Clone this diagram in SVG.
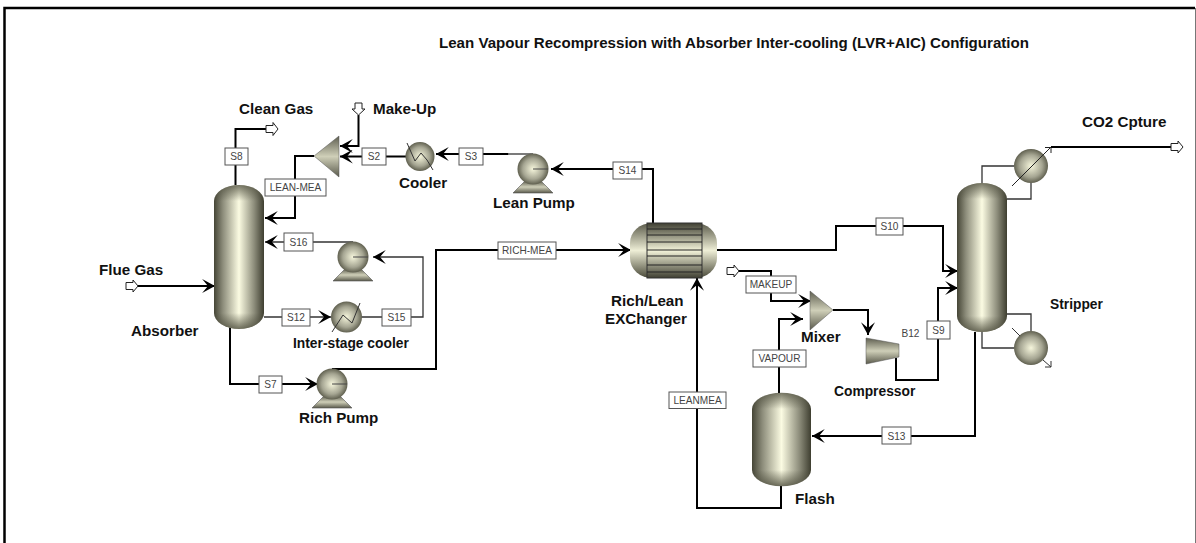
<svg xmlns="http://www.w3.org/2000/svg" width="1196" height="543" viewBox="0 0 1196 543">
<style>
text{font-family:"Liberation Sans",Arial,sans-serif;fill:#111}
.t{font-weight:bold;font-size:15.2px}
.s{font-weight:bold;font-size:13.8px}
.l{font-size:10.100px;text-anchor:middle;fill:#444}
.b{fill:#fff;stroke:#555;stroke-width:1}
.k{fill:none;stroke:#000;stroke-width:2}
.g{fill:none;stroke:#333;stroke-width:1.3}
.w{fill:#fff;stroke:#222;stroke-width:1}
.sh{stroke:#555;stroke-width:.6}
</style>
<defs>
<marker id="a" markerUnits="userSpaceOnUse" markerWidth="14" markerHeight="14" refX="11" refY="6" orient="auto" viewBox="0 0 12 12"><path d="M0,0 L11,6 L0,12 L5,6 Z" fill="#000"/></marker>
<linearGradient id="h"><stop offset="0" stop-color="#454536"/><stop offset=".18" stop-color="#8e8e7c"/><stop offset=".5" stop-color="#fbfbe2"/><stop offset=".8" stop-color="#8e8e7c"/><stop offset="1" stop-color="#3e3e30"/></linearGradient>
<linearGradient id="v" x2="0" y2="1"><stop offset="0" stop-color="#5a5a4a"/><stop offset=".5" stop-color="#eeeed6"/><stop offset="1" stop-color="#4a4a3a"/></linearGradient>
<linearGradient id="capT" x2="0" y2="1"><stop offset="0" stop-color="#4a4a3a" stop-opacity=".75"/><stop offset="1" stop-color="#4a4a3a" stop-opacity="0"/></linearGradient>
<linearGradient id="capB" x2="0" y2="1"><stop offset="0" stop-color="#4a4a3a" stop-opacity="0"/><stop offset="1" stop-color="#4a4a3a" stop-opacity=".8"/></linearGradient>
<radialGradient id="r" cx=".5" cy=".5" r=".55"><stop offset="0" stop-color="#f6f6dc"/><stop offset=".6" stop-color="#a5a592"/><stop offset="1" stop-color="#4c4c3c"/></radialGradient>
<linearGradient id="m" x2="0" y2="1"><stop offset="0" stop-color="#5e5e50"/><stop offset=".5" stop-color="#cfcfb8"/><stop offset="1" stop-color="#5a5a4c"/></linearGradient>
<linearGradient id="tb" x2="0" y2="1"><stop offset="0" stop-color="#3f3f32"/><stop offset=".5" stop-color="#f4f4da"/><stop offset="1" stop-color="#3f3f32"/></linearGradient>
<g id="pump"><path d="M-8,12 L-20,24 H20 L8,12 Z" fill="url(#m)" class="sh"/><circle r="15.5" fill="url(#r)"/><path d="M0,0 H15" stroke="#444" stroke-width="1"/></g>
</defs>
<rect width="1196" height="543" fill="#fff"/>
<path d="M4.500,543 V8 H1195" fill="none" stroke="#000" stroke-width="2.500"/>
<path d="M1195.500,8 V543" stroke="#777" stroke-width="1"/>
<text x="439" y="48" style="font-weight:bold;font-size:15.100px">Lean Vapour Recompression with Absorber Inter-cooling (LVR+AIC) Configuration</text>

<g id="connectors">
<path class="k" d="M235.500,185 V129 H266"/>
<path class="k" d="M358.500,115 V146 H340" marker-end="url(#a)"/>
<path class="k" d="M407,156.500 H340" marker-end="url(#a)"/>
<path class="k" d="M508,154 H436" marker-end="url(#a)"/>
<path class="g" d="M533,154 H508"/>
<path class="k" d="M653,223 V169 H551" marker-end="url(#a)"/>
<path class="k" d="M314,156 H295 V218 H265" marker-end="url(#a)"/>
<path class="g" d="M353,242 H265" marker-end="url(#a)"/>
<path class="g" d="M360,317 H423 V257 H373" marker-end="url(#a)"/>
<path class="g" d="M264,317 H331" marker-end="url(#a)"/>
<path class="k" d="M230,325 V384 H318" marker-end="url(#a)"/>
<path class="k" d="M332,369 H436 V250 H631" marker-end="url(#a)"/>
<path class="k" d="M138,286 H215" marker-end="url(#a)"/>
<path class="k" d="M717,250 H836 V226 H943 V271 H958" marker-end="url(#a)"/>
<path class="k" d="M896,358 V380 H938 V288 H958" marker-end="url(#a)"/>
<path class="k" d="M833,310 H868 V335" marker-end="url(#a)"/>
<path class="k" d="M739,271 H771 V301 H811" marker-end="url(#a)"/>
<path class="k" d="M779,393 V319 H803" marker-end="url(#a)"/>
<path class="k" d="M975,332 V436 H812" marker-end="url(#a)"/>
<path class="k" d="M781,486 V508 H697 V278" marker-end="url(#a)"/>
<path class="k" d="M1051,147 H1172"/>
<path class="g" d="M982,183 V166 H1014"/>
<path class="g" d="M1007,199 H1031 V183"/>
<path class="g" d="M1007,314 H1031 V331"/>
<path class="g" d="M982,332 V348 H1014"/>
<polygon class="w" points="266,125.500 273,125.500 273,122.500 278,129 273,135.500 273,132.500 266,132.500"/>
<polygon class="w" points="355,103 362,103 362,109 365,109 358.500,115 352,109 355,109"/>
<polygon class="w" points="126,282.500 133,282.500 133,280 138,286 133,292 133,289.500 126,289.500"/>
<polygon class="w" points="727,267.500 734,267.500 734,265 739,271 734,277 734,274.500 727,274.500"/>
<polygon class="w" points="1171,143.500 1178,143.500 1178,141 1183,147 1178,153 1178,150.500 1171,150.500"/>
</g>

<g id="absorber"><rect x="214" y="185" width="50" height="144" rx="25" ry="16" fill="url(#h)"/><path d="M214,201 A25,16 0 0 1 264,201 Z" fill="url(#capT)"/><path d="M214,313 A25,16 0 0 0 264,313 Z" fill="url(#capB)"/></g>
<g id="stripper"><rect x="957" y="183" width="50" height="149" rx="25" ry="16" fill="url(#h)"/><path d="M957,199 A25,16 0 0 1 1007,199 Z" fill="url(#capT)"/><path d="M957,316 A25,16 0 0 0 1007,316 Z" fill="url(#capB)"/></g>
<g id="flash"><rect x="752" y="393" width="59" height="93" rx="29" ry="16" fill="url(#h)"/><path d="M752,409 A29,16 0 0 1 811,409 Z" fill="url(#capT)"/><path d="M752,470 A29,16 0 0 0 811,470 Z" fill="url(#capB)"/></g>
<g id="exchanger">
<rect x="630" y="223" width="87" height="55" rx="22" ry="20" fill="url(#v)"/>
<rect x="647" y="223" width="55" height="55" fill="url(#tb)" stroke="#333" stroke-width="1"/>
<path d="M647,229 H702 M647,235 H702 M647,242 H702 M647,250 H702 M647,256 H702 M647,265 H702 M647,272 H702" stroke="#222" stroke-width="1"/>
</g>
<g id="mixer1"><polygon points="314,156 339,136 339,177" fill="url(#m)" stroke="#555" stroke-width=".5"/></g>
<g id="mixer2"><polygon points="833,310 810,291 810,330" fill="url(#m)" stroke="#555" stroke-width=".5"/></g>
<g id="compressor"><polygon points="866,338 899,344 899,357 866,364" fill="url(#m)" stroke="#555" stroke-width=".5"/></g>
<g id="cooler"><circle cx="420" cy="156.500" r="14.500" fill="url(#r)"/><path d="M407,143 L415,161 L421,153 L427,160 L433,170" fill="none" stroke="#333" stroke-width="1"/></g>
<g id="interstage"><circle cx="346.500" cy="317" r="15.500" fill="url(#r)"/><path d="M332,332 L343,315 L352,323 L360,303" fill="none" stroke="#333" stroke-width="1"/></g>
<g id="lean-pump"><use href="#pump" x="533" y="169"/></g>
<g id="pump2"><use href="#pump" x="353" y="257"/></g>
<g id="rich-pump"><use href="#pump" x="332" y="384"/></g>
<g id="condenser"><circle cx="1031" cy="166" r="17" fill="url(#r)"/><path d="M1012,186 L1051,147 M1045,147.500 H1051 V153" fill="none" stroke="#222" stroke-width="1"/></g>
<g id="reboiler"><circle cx="1031" cy="348" r="17" fill="url(#r)"/><path d="M1012,328 L1020,336 M1043,360 L1051,367 M1045,367 H1051 V361" fill="none" stroke="#333" stroke-width="1"/></g>

<g id="labels">
<rect class="b" x="225" y="148" width="23" height="17"/><text class="l" x="236.500" y="160">S8</text>
<rect class="b" x="362" y="148" width="24" height="17"/><text class="l" x="374" y="160">S2</text>
<rect class="b" x="459" y="148" width="24" height="17"/><text class="l" x="471" y="160">S3</text>
<rect class="b" x="613" y="162" width="29" height="17"/><text class="l" x="627.500" y="174">S14</text>
<rect class="b" x="265" y="179" width="61" height="17"/><text class="l" x="295.500" y="191">LEAN-MEA</text>
<rect class="b" x="284" y="233" width="29" height="18"/><text class="l" x="298.500" y="246">S16</text>
<rect class="b" x="282" y="309" width="28" height="17"/><text class="l" x="296" y="321">S12</text>
<rect class="b" x="382" y="309" width="29" height="17"/><text class="l" x="396.500" y="321">S15</text>
<rect class="b" x="259" y="376" width="23" height="17"/><text class="l" x="270.500" y="388">S7</text>
<rect class="b" x="498" y="242" width="58" height="17"/><text class="l" x="527" y="254">RICH-MEA</text>
<rect class="b" x="876" y="218" width="27" height="17"/><text class="l" x="889.500" y="230">S10</text>
<rect class="b" x="927" y="321" width="23" height="18"/><text class="l" x="938.500" y="334">S9</text>
<rect class="b" x="746" y="276" width="50" height="17"/><text class="l" x="771" y="288">MAKEUP</text>
<rect class="b" x="753" y="350" width="53" height="17"/><text class="l" x="779.500" y="362">VAPOUR</text>
<rect class="b" x="882" y="427" width="29" height="17"/><text class="l" x="896.500" y="440">S13</text>
<rect class="b" x="669" y="392" width="57" height="16.500"/><text class="l" x="697.500" y="404">LEANMEA</text>
<text class="l" x="910.500" y="337">B12</text>
<text class="t" x="239" y="114">Clean Gas</text>
<text class="t" x="373" y="114">Make-Up</text>
<text class="t" x="99" y="275">Flue Gas</text>
<text class="t" x="131" y="336">Absorber</text>
<text class="t" x="399" y="188">Cooler</text>
<text class="t" x="493" y="208">Lean Pump</text>
<text class="s" x="293" y="348">Inter-stage cooler</text>
<text class="t" x="299" y="423">Rich Pump</text>
<text class="t" x="611" y="306">Rich/Lean</text>
<text class="t" x="605" y="324">EXChanger</text>
<text class="t" x="801" y="342">Mixer</text>
<text class="s" x="834" y="396">Compressor</text>
<text class="t" x="795" y="504">Flash</text>
<text class="s" x="1050" y="309">Stripper</text>
<text class="t" x="1082" y="127">CO2 Cpture</text>
</g>
</svg>
